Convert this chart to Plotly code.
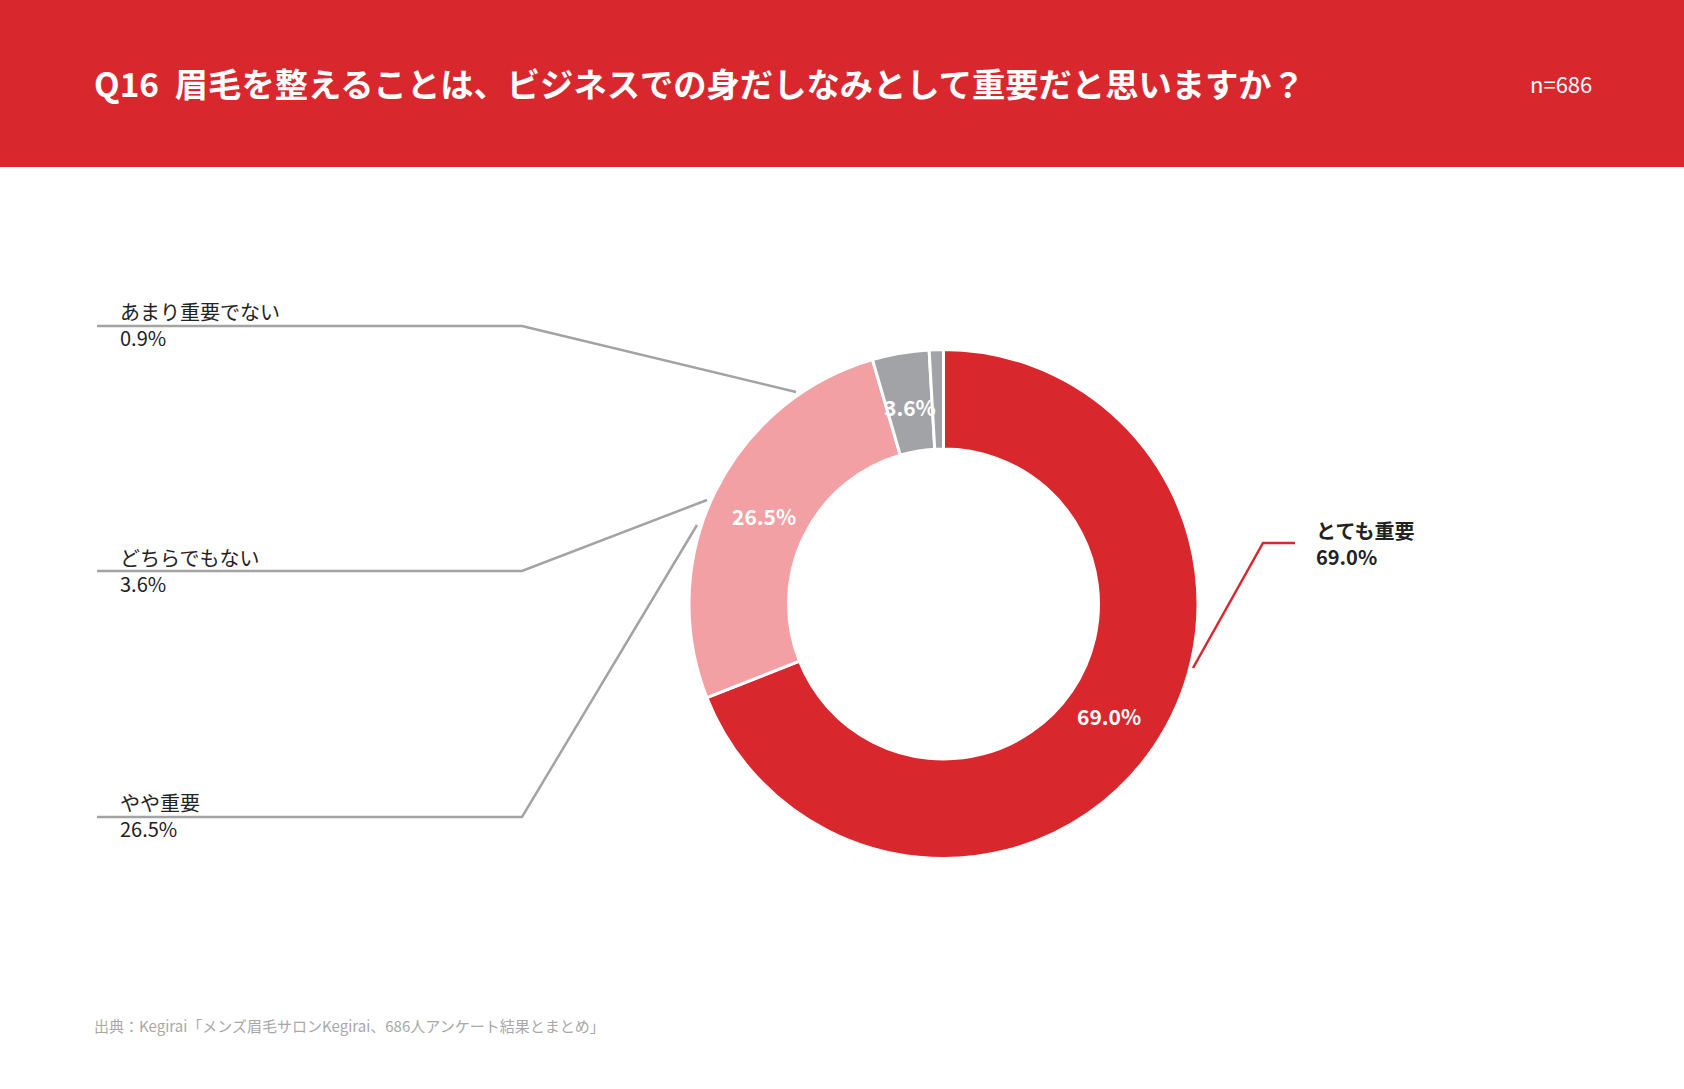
import math
import plotly.graph_objects as go

# ---------------- data ----------------
title_text = "Q16 \u2005眉毛を整えることは、ビジネスでの身だしなみとして重要だと思いますか？"
sample_text = "n=686"
source_text = "出典：Kegirai「メンズ眉毛サロンKegirai、686人アンケート結果とまとめ」"

categories = ["とても重要", "やや重要", "どちらでもない", "あまり重要でない"]
values = [69.0, 26.5, 3.6, 0.9]
show_inside = [True, True, True, False]

# ---------------- style ----------------
W, H = 1684, 1089
RED = "#D9272E"
PINK = "#F2A0A4"
GRAY = "#A2A3A7"
LINE_GRAY = "#A3A3A6"
TEXT = "#222222"
FONT = "Noto Sans CJK JP"
slice_colors = [RED, PINK, GRAY, GRAY]

CX, CY, R = 943.5, 604.0, 254.5
HOLE = 0.609

def px(x):
    return x / W

def py(y):
    return 1 - y / H

fig = go.Figure()
fig.add_trace(go.Pie(
    labels=categories,
    values=values,
    sort=False,
    direction="clockwise",
    hole=HOLE,
    textinfo="none",
    hoverinfo="label+percent",
    marker=dict(colors=slice_colors, line=dict(color="white", width=3)),
    domain=dict(x=[px(CX - R), px(CX + R)], y=[py(CY + R), py(CY - R)]),
    showlegend=False,
))

shapes = [
    dict(type="rect", xref="paper", yref="paper", x0=0, x1=1, y0=py(167), y1=1,
         fillcolor=RED, line=dict(width=0), layer="below"),
]

# leader line layout (pixel positions) per category
leaders = {
    "あまり重要でない": dict(pts=[(97, 326), (522, 326), (796, 392)], color=LINE_GRAY,
                        tx=118, ty=325, side="left"),
    "どちらでもない": dict(pts=[(97, 571), (522, 571), (707, 500)], color=LINE_GRAY,
                      tx=118, ty=570.5, side="left"),
    "やや重要": dict(pts=[(97, 817), (522, 817), (697, 525)], color=LINE_GRAY,
                 tx=118, ty=815.5, side="left"),
    "とても重要": dict(pts=[(1193, 668), (1263, 543), (1295, 543)], color=RED,
                  tx=1314, ty=543.5, side="right"),
}

annotations = []
for cat, val in zip(categories, values):
    ld = leaders[cat]
    path = "M " + " L ".join(f"{px(x):.6f},{py(y):.6f}" for x, y in ld["pts"])
    shapes.append(dict(type="path", xref="paper", yref="paper", path=path,
                       line=dict(color=ld["color"], width=2.5)))
    bold = ld["side"] == "right"
    annotations.append(dict(
        xref="paper", yref="paper", x=px(ld["tx"]), y=py(ld["ty"]),
        xanchor="left", yanchor="middle", align="left", showarrow=False,
        text=f"{cat}<br>{val:.1f}%",
        font=dict(family=FONT, size=20, color=TEXT, weight=700 if bold else 400),
    ))

# inside percentage labels, placed near the middle of each ring segment
total = sum(values)
r_mid = R * (1 + HOLE) / 2 * 0.975
cum = 0.0
for val, show in zip(values, show_inside):
    mid = (cum + val / 2) / total
    cum += val
    if not show:
        continue
    th = 2 * math.pi * mid
    x = CX + r_mid * math.sin(th)
    y = CY - r_mid * math.cos(th)
    annotations.append(dict(
        xref="paper", yref="paper", x=px(x), y=py(y),
        xanchor="center", yanchor="middle", showarrow=False,
        text=f"{val:.1f}%",
        font=dict(family=FONT, size=21, color="white", weight=700),
    ))

annotations += [
    dict(xref="paper", yref="paper", x=px(92), y=py(83), xanchor="left", yanchor="middle",
         showarrow=False, text=title_text,
         font=dict(family=FONT, size=33.3, color="white", weight=700)),
    dict(xref="paper", yref="paper", x=px(1594), y=py(83), xanchor="right", yanchor="middle",
         showarrow=False, text=sample_text,
         font=dict(family=FONT, size=22, color="white")),
    dict(xref="paper", yref="paper", x=px(92), y=py(1025), xanchor="left", yanchor="middle",
         showarrow=False, text=source_text,
         font=dict(family=FONT, size=15, color="#A8A8A8")),
]

fig.update_layout(
    width=W, height=H,
    margin=dict(l=0, r=0, t=0, b=0),
    paper_bgcolor="white", plot_bgcolor="white",
    shapes=shapes, annotations=annotations,
    font=dict(family=FONT),
)

fig.write_html("out.html",
               config={"displayModeBar": False},
               post_script="document.body.style.margin='0';document.body.style.overflow='hidden';")
